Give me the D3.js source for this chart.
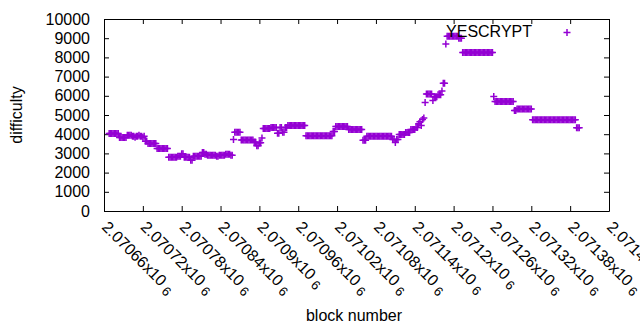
<!DOCTYPE html>
<html><head><meta charset="utf-8">
<script src="https://cdn.jsdelivr.net/npm/d3@7"></script>
<style>
body{margin:0;background:#fff}
svg{display:block}
text{font-family:"Liberation Sans",Arial,Helvetica,sans-serif;fill:#000}
</style>
</head><body>
<svg id="chart" width="640" height="330"></svg>
<script>
const seriesName = "YESCRYPT";
const xTitle = "block number";
const yTitle = "difficulty";
const firstBlock = 2070668;
const blockStep = 2;
const difficulty = [
  4040,4040,4040,4040,4040,4040,4040,4040,
  3830,3830,3830,3830,3830,3830,
  3940,3940,3940,3940,
  3890,3890,3840,3890,3890,3940,3890,3890,3840,3890,
  3630,3630,3520,3520,3520,3520,3520,3520,3520,
  3260,3260,3260,3260,3260,3260,3260,3260,3260,
  2800,2800,2800,2800,2800,2800,2800,
  2850,2850,2850,
  2980,2980,
  2800,2800,2800,2800,2800,
  2640,2640,
  2850,2850,2850,2850,2850,2850,2850,
  3050,3050,
  2950,2950,
  2900,2900,2900,2900,2900,2900,2900,
  2850,2850,
  2900,2900,2900,2900,2900,
  2950,2950,2950,2950,
  2900,2900,
  3730,
  4100,4100,4100,4100,4100,
  3700,3700,3700,3700,3700,3700,3700,3700,3700,3700,
  3600,3600,
  3400,3400,
  3550,3550,
  3800,
  4300,4300,4300,4300,4300,4300,
  4350,4350,4350,4350,4350,
  4050,4050,
  4350,4350,
  4100,4100,
  4350,4350,
  4450,4450,4450,4450,4450,4450,4450,4450,4450,4450,4450,4450,4450,4450,
  3920,3920,3920,3920,3920,3920,3920,3920,3920,3920,3920,3920,3920,3920,3920,3920,3920,3920,3920,3920,3920,
  4140,4140,
  4400,4400,4400,4400,4400,4400,4400,4400,4400,4400,
  4250,4250,4250,4250,4250,4250,4250,4250,4250,4250,4250,
  3680,3680,3680,
  3890,3890,3890,3890,3890,3890,3890,3890,3890,3890,3890,3890,3890,3890,3890,3890,3890,3890,3890,3890,
  3730,3730,3570,3730,3730,
  3990,3990,3990,3990,3990,
  4090,4090,4090,4090,
  4250,4250,4250,4250,
  4350,4350,
  4550,4650,4450,4770,4850,
  5650,
  6100,6100,6100,6100,6100,
  5750,
  5950,5950,5950,
  6050,6050,6050,
  6250,
  6650,6650,
  8700,
  9100,9100,9100,9100,9100,9100,9100,9100,9100,
  9000,9000,9000,
  8250,8250,8250,8250,8250,8250,8250,8250,8250,8250,8250,8250,8250,8250,8250,8250,8250,8250,8250,8250,8250,8250,8250,8250,
  5960,
  5700,5700,5700,5700,5700,5700,5700,5700,5700,5700,5700,5700,5700,5700,5700,
  5230,5230,
  5310,5310,5310,5310,5310,5310,5310,5310,5310,5310,5310,5310,
  4750,4750,4750,4750,4750,4750,4750,4750,4750,4750,4750,4750,4750,4750,4750,4750,4750,
  4750,4750,4750,4750,4750,4750,4750,4750,4750,4750,4750,4750,4750,4750,4750,4750,4750,
  4330,4330,4330
];
const xTicks = [2070660,2070720,2070780,2070840,2070900,2070960,2071020,2071080,2071140,2071200,2071260,2071320,2071380,2071440];
const yTicks = [0,1000,2000,3000,4000,5000,6000,7000,8000,9000,10000];

const color = "#9400d3";
const svg = d3.select("#chart");
const L = 104, R = 609, T = 19, B = 211;
const x = d3.scaleLinear().domain([xTicks[0], xTicks[xTicks.length-1]]).range([L, R]);
const y = d3.scaleLinear().domain([0, 10000]).range([B, T]);

const points = difficulty.map((d, i) => ({block: firstBlock + i * blockStep, diff: d}));

function styleAxis(g){
  g.selectAll("path.domain").attr("stroke","#000").attr("stroke-width",1);
  g.selectAll(".tick line").attr("stroke","#000").attr("stroke-width",1);
}

// bottom axis
const gx = svg.append("g").attr("transform",`translate(0,${B})`)
  .call(d3.axisBottom(x).tickValues(xTicks).tickSizeInner(-5).tickSizeOuter(0).tickFormat(""));
styleAxis(gx);
// top mirror
const gxt = svg.append("g").attr("transform",`translate(0,${T})`)
  .call(d3.axisTop(x).tickValues(xTicks).tickSizeInner(-5).tickSizeOuter(0).tickFormat(""));
styleAxis(gxt);
// left axis
const gy = svg.append("g").attr("transform",`translate(${L},0)`)
  .call(d3.axisLeft(y).tickValues(yTicks).tickSizeInner(-5).tickSizeOuter(0).tickPadding(14).tickFormat(d3.format("d")));
styleAxis(gy);
gy.selectAll(".tick text").attr("font-size",16).attr("font-family","Liberation Sans, Arial, sans-serif").attr("fill","#000");
// right mirror
const gyr = svg.append("g").attr("transform",`translate(${R},0)`)
  .call(d3.axisRight(y).tickValues(yTicks).tickSizeInner(-5).tickSizeOuter(0).tickFormat(""));
styleAxis(gyr);

// rotated x tick labels
const xl = svg.append("g").selectAll("text").data(xTicks).enter().append("text")
  .attr("transform", d => `translate(${x(d)-3},${B+17}) rotate(45)`)
  .attr("font-size",16).attr("text-anchor","start");
xl.append("tspan").text(d => String(parseFloat((d/1e6).toFixed(5))) + "x10");
xl.append("tspan").attr("font-size",13).attr("dx",4).attr("dy",3).text("6");

// axis titles
svg.append("text").attr("x",354).attr("y",321).attr("text-anchor","middle").attr("font-size",16).text(xTitle);
svg.append("text").attr("transform","translate(22,115) rotate(-90)").attr("text-anchor","middle").attr("font-size",16).text(yTitle);

// points
const plus = "M-3.5,0H3.5M0,-3.5V3.5";
svg.append("g").selectAll("path").data(points).enter().append("path")
  .attr("d", plus)
  .attr("transform", d => `translate(${x(d.block)},${y(d.diff)})`)
  .attr("stroke", color).attr("stroke-width",1.5).attr("fill","none");

// legend
svg.append("text").attr("x",532).attr("y",37).attr("text-anchor","end").attr("font-size",16).text(seriesName);
svg.append("path").attr("d",plus).attr("transform","translate(567,32.5)")
  .attr("stroke",color).attr("stroke-width",1.5).attr("fill","none");
</script>
</body></html>
